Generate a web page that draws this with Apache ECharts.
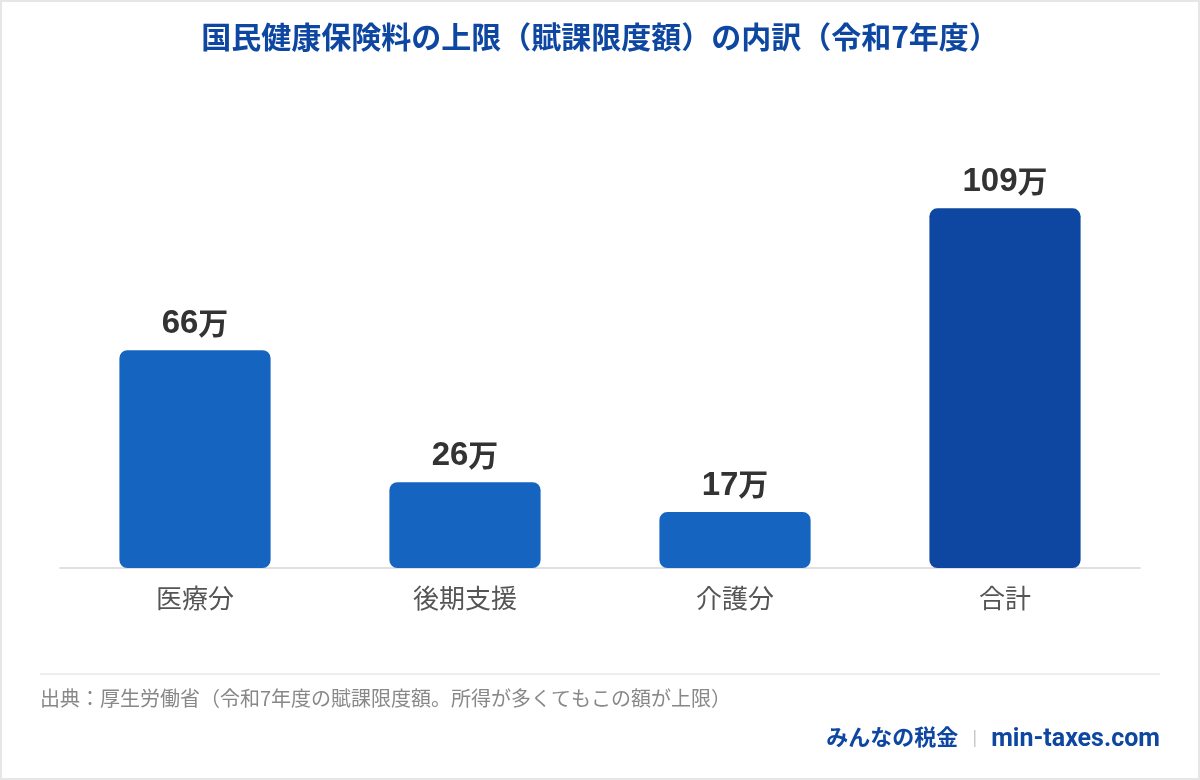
<!DOCTYPE html>
<html>
<head>
<meta charset="utf-8">
<script src="https://cdn.jsdelivr.net/npm/echarts@6/dist/echarts.min.js"></script>
<style>
  html, body { margin: 0; padding: 0; background: #fff; }
  #box { width: 1200px; height: 780px; }
</style>
</head>
<body>
<div id="box"></div>
<script>
// 賦課限度額の内訳（万円）
const categories = ["医療分", "後期支援", "介護分", "合計"];
const values = [66, 26, 17, 109];
const barColors = ["#1565c0", "#1565c0", "#1565c0", "#0d47a1"];

const titleText = "国民健康保険料の上限（賦課限度額）の内訳（令和7年度）";
const sourceText = "出典：厚生労働省（令和7年度の賦課限度額。所得が多くてもこの額が上限）";

const font = "'Noto Sans CJK JP', 'Noto Sans', sans-serif";
const numFont = "'Liberation Sans', 'Noto Sans CJK JP', sans-serif";
const latinFont = "Roboto, 'Noto Sans CJK JP', sans-serif";

var myChart = echarts.init(document.getElementById("box"));

myChart.setOption({
  backgroundColor: "#fff",
  textStyle: { fontFamily: font },
  title: {
    text: titleText,
    left: "center",
    top: 17,
    textStyle: { color: "#0d47a1", fontSize: 30, fontWeight: "bold", fontFamily: font },
  },
  grid: { left: 60, right: 60, top: 172, bottom: 212 },
  xAxis: {
    type: "category",
    data: categories,
    axisLine: { lineStyle: { color: "#e0e0e0", width: 2 } },
    axisTick: { show: false },
    axisLabel: { color: "#555", fontSize: 26, margin: 17, fontFamily: font },
  },
  yAxis: {
    type: "value",
    min: 0,
    max: 120,
    show: false,
    splitLine: { show: false },
  },
  series: [
    {
      type: "bar",
      barWidth: "56%",
      z: 3,
      data: values.map(function (v, i) {
        return {
          value: v,
          itemStyle: { color: barColors[i], borderRadius: 8 },
        };
      }),
      label: {
        show: true,
        position: "top",
        distance: 8,
        formatter: "{n|{c}}{u|万}",
        rich: {
          n: { color: "#333", fontSize: 33, lineHeight: 36, fontWeight: "bold", fontFamily: numFont },
          u: { color: "#333", fontSize: 30, lineHeight: 36, fontWeight: "bold", fontFamily: font, padding: [0, 0, 4, 0] },
        },
      },
    },
  ],
  graphic: [
    {
      type: "rect",
      shape: { x: 1, y: 1, width: 1198, height: 778 },
      style: { fill: "none", stroke: "#e6e6e6", lineWidth: 2 },
      silent: true,
    },
    {
      type: "line",
      shape: { x1: 40, y1: 674, x2: 1160, y2: 674 },
      style: { stroke: "#eeeeee", lineWidth: 2 },
    },
    {
      type: "text",
      left: 40,
      top: 688,
      style: { text: sourceText, fill: "#888", fontSize: 20, fontFamily: font },
    },
    {
      type: "text",
      right: 40,
      top: 726,
      style: {
        text: "{a|みんなの税金}{s||}{b|min-taxes.com}",
        fontFamily: font,
        rich: {
          a: { fill: "#0d47a1", fontSize: 22, lineHeight: 30, fontWeight: "bold", fontFamily: font, padding: [0, 0, 5, 0] },
          s: { fill: "#c8c8c8", fontSize: 20, lineHeight: 30, padding: [0, 14], fontFamily: latinFont },
          b: { fill: "#0d47a1", fontSize: 25, lineHeight: 30, fontWeight: "bold", fontFamily: latinFont },
        },
      },
    },
  ],
});
</script>
</body>
</html>
